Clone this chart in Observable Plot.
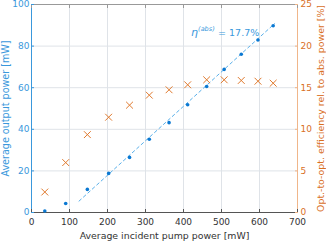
<!DOCTYPE html>
<html><head><meta charset="utf-8">
<script src="https://cdn.jsdelivr.net/npm/d3@7"></script>
<script src="https://cdn.jsdelivr.net/npm/@observablehq/plot@0.6"></script>
<style>body{margin:0;background:#fff}svg{font-family:"DejaVu Sans",sans-serif}</style>
</head><body><div id="chart"></div>
<script>
const pumpPower = [35, 90, 147, 203, 258, 310, 362, 411, 461, 507, 552, 596, 636];
const outputPower = [0.7, 4.3, 11.1, 18.8, 26.5, 35.2, 43.2, 51.8, 60.6, 68.8, 76.1, 82.9, 89.8];
const efficiency = [2.46, 6.0, 9.36, 11.45, 12.9, 14.1, 14.75, 15.35, 15.95, 15.95, 15.87, 15.78, 15.54];
const fitX = [125, 640];
const fitSlope = 0.1658, fitX0 = 92;
const xTicks = [0,100,200,300,400,500,600,700];
const yTicks = [0,20,40,60,80,100];
const y2Ticks = [0,5,10,15,20,25];
const blue = "#0a78d2", blueText = "#3a98dc", orange = "#e07a2e", orangeText = "#d9701f";

const pts = pumpPower.map((x,i)=>({x, out: outputPower[i], eff: efficiency[i]}));
const fit = fitX.map(x=>({x, y: fitSlope*(x-fitX0)}));
const scale2 = 100/25;

const plot = Plot.plot({
  width: 326, height: 242,
  marginLeft: 31, marginRight: 29, marginTop: 4, marginBottom: 30,
  style: {fontSize: "9px", fontFamily: "DejaVu Sans, sans-serif"},
  x: {domain: [0,700]},
  y: {domain: [0,100]},
  marks: [
    Plot.gridX(xTicks, {stroke: "#dfe3e8", strokeOpacity: 1}),
    Plot.gridY(yTicks, {stroke: "#dfe3e8", strokeOpacity: 1}),
    Plot.ruleY([100], {stroke: "#999"}),
    Plot.ruleY([0], {stroke: "#555"}),
    Plot.ruleX([0], {stroke: blueText}),
    Plot.ruleX([700], {stroke: "#f0b68a"}),
    Plot.axisX({anchor: "bottom", ticks: xTicks, tickSize: -3, tickPadding: 9, stroke: "#555", color: "#333", label: null}),
    Plot.axisX({anchor: "bottom", ticks: [], label: "Average incident pump power [mW]", labelAnchor: "center", labelArrow: "none", labelOffset: 26, fontSize: 9.4, color: "#333"}),
    Plot.axisX({anchor: "top", ticks: xTicks, tickSize: -3, stroke: "#999", tickFormat: () => "", label: null}),
    Plot.axisY({anchor: "left", ticks: yTicks, tickSize: -3, tickPadding: 5, stroke: blueText, color: blueText, label: null}),
    Plot.axisY({anchor: "left", ticks: [], color: blueText, fontSize: 9.6,
      label: "Average output power [mW]", labelAnchor: "center", labelArrow: "none", labelOffset: 29}),
    Plot.axisY({anchor: "right", ticks: y2Ticks.map(d=>d*scale2), tickFormat: d => d/scale2, tickSize: -3, tickPadding: 6,
      stroke: "#f0b68a", color: orangeText, label: null}),
    Plot.axisY({anchor: "right", ticks: [], color: orangeText, fontSize: 9.4,
      label: "Opt.-to-opt. efficiency rel. to abs. power [%]", labelAnchor: "center", labelArrow: "none", labelOffset: 26}),
    Plot.line(fit, {x: "x", y: "y", stroke: "#5ab0ea", strokeWidth: 1, strokeDasharray: "3,3"}),
    Plot.dot(pts, {x: "x", y: d => d.eff*scale2, symbol: "times", r: 3.2, stroke: orange, strokeWidth: 1}),
    Plot.dot(pts, {x: "x", y: "out", r: 1.8, fill: blue, stroke: "none"}),
    Plot.text(["η"], {x: 420, y: 86.5, text: d=>d, textAnchor: "start", fill: blueText, fontSize: 11, fontStyle: "italic"}),
    Plot.text(["(abs)"], {x: 420, y: 86.5, dx: 7, dy: -4, text: d=>d, textAnchor: "start", fill: blueText, fontSize: 6.5, fontStyle: "italic"}),
    Plot.text(["= 17.7%"], {x: 420, y: 86.5, dx: 27, text: d=>d, textAnchor: "start", fill: blueText, fontSize: 9.5})
  ]
});
document.getElementById("chart").appendChild(plot);
</script></body></html>
